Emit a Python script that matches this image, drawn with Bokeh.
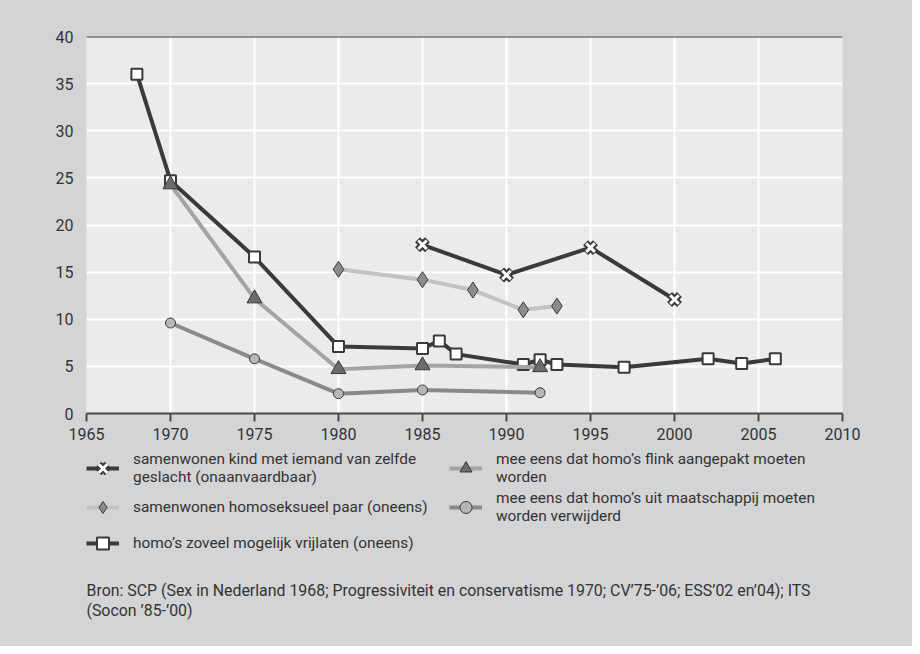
from bokeh.plotting import figure
from bokeh.models import FixedTicker, Span, Legend, LegendItem, Label, Range1d
from bokeh.layouts import column
from bokeh.embed import file_html
from bokeh.resources import INLINE

# ---- data ----
x_ticks = [1965, 1970, 1975, 1980, 1985, 1990, 1995, 2000, 2005, 2010]
y_ticks = [0, 5, 10, 15, 20, 25, 30, 35, 40]

years_cross = [1985, 1990, 1995, 2000]
vals_cross = [17.9, 14.7, 17.6, 12.1]

years_diamond = [1980, 1985, 1988, 1991, 1993]
vals_diamond = [15.3, 14.2, 13.1, 11.0, 11.4]

years_square = [1968, 1970, 1975, 1980, 1985, 1986, 1987, 1991, 1992, 1993, 1997, 2002, 2004, 2006]
vals_square = [36.0, 24.7, 16.6, 7.1, 6.9, 7.7, 6.3, 5.2, 5.7, 5.2, 4.9, 5.8, 5.3, 5.8]

years_triangle = [1970, 1975, 1980, 1985, 1992]
vals_triangle = [24.3, 12.2, 4.7, 5.1, 4.9]

years_circle = [1970, 1975, 1980, 1985, 1992]
vals_circle = [9.6, 5.8, 2.1, 2.5, 2.2]

label_cross = "samenwonen kind met iemand van zelfde\ngeslacht (onaanvaardbaar)"
label_diamond = "samenwonen homoseksueel paar (oneens)"
label_square = "homo\u2019s zoveel mogelijk vrijlaten (oneens)"
label_triangle = "mee eens dat homo\u2019s flink aangepakt moeten\nworden"
label_circle = "mee eens dat homo\u2019s uit maatschappij moeten\nworden verwijderd"

source_lines = [
    "Bron: SCP (Sex in Nederland 1968; Progressiviteit en conservatisme 1970; CV\u201975-\u201906; ESS\u201902 en\u201904); ITS",
    "(Socon \u201985-\u201900)",
]

# ---- style ----
FONT = "Roboto"
TXT = "#333333"
OUTER = "#d3d4d6"
INNER = "#ebebed"
DARK = "#3a3a3a"
W = 912
H1 = 447
H2 = 199
BORDERS = dict(min_border_left=86, min_border_right=70)

# ---- chart ----
p = figure(width=W, height=H1, output_backend="svg", toolbar_location=None,
           x_range=Range1d(1965, 2010), y_range=Range1d(0, 40),
           min_border_top=36, min_border_bottom=34, **BORDERS)
p.background_fill_color = INNER
p.border_fill_color = OUTER
p.outline_line_color = None

p.xaxis.ticker = FixedTicker(ticks=x_ticks)
p.yaxis.ticker = FixedTicker(ticks=y_ticks)
p.xgrid.ticker = FixedTicker(ticks=x_ticks)
p.ygrid.ticker = FixedTicker(ticks=y_ticks)
p.grid.grid_line_color = "white"
p.grid.grid_line_width = 2

p.yaxis.axis_line_color = None
p.yaxis.major_tick_line_color = None
p.yaxis.minor_tick_line_color = None
p.yaxis.major_tick_out = 0
p.yaxis.major_tick_in = 0
p.yaxis.minor_tick_out = 0
p.yaxis.major_label_standoff = 13
p.xaxis.axis_line_color = "#4a4a4a"
p.xaxis.axis_line_width = 2
p.xaxis.major_tick_line_color = "#4a4a4a"
p.xaxis.major_tick_line_width = 2
p.xaxis.major_tick_out = 8
p.xaxis.major_tick_in = 0
p.xaxis.minor_tick_line_color = None
p.xaxis.minor_tick_out = 0
p.xaxis.major_label_standoff = 6
for ax in (p.xaxis, p.yaxis):
    ax.major_label_text_font = FONT
    ax.major_label_text_font_size = "16px"
    ax.major_label_text_color = TXT

p.add_layout(Span(location=40, dimension="width", line_color=DARK, line_width=2))

SQ = dict(marker="square", size=11, fill_color="white", line_color=DARK, line_width=2)
CR1 = dict(marker="x", size=14, line_color=DARK, line_width=7)
CR2 = dict(marker="x", size=12, line_color="white", line_width=3)
DI = dict(marker="diamond", size=16, fill_color="#8c8c8c", line_color=DARK, line_width=1)
TR = dict(marker="triangle", size=15, fill_color="#6c6c6c", line_color=DARK, line_width=1)
CI = dict(marker="circle", size=10, fill_color="#b6b6b6", line_color=DARK, line_width=1)
L_SQ = dict(line_color=DARK, line_width=4)
L_CR = dict(line_color=DARK, line_width=4)
L_DI = dict(line_color="#c2c2c2", line_width=4)
L_TR = dict(line_color="#a4a4a4", line_width=4)
L_CI = dict(line_color="#8a8a8a", line_width=4)

p.line(years_square, vals_square, **L_SQ)
p.scatter(years_square, vals_square, **SQ)
p.line(years_cross, vals_cross, **L_CR)
p.scatter(years_cross, vals_cross, **CR1)
p.scatter(years_cross, vals_cross, **CR2)
p.line(years_diamond, vals_diamond, **L_DI)
p.scatter(years_diamond, vals_diamond, **DI)
p.line(years_triangle, vals_triangle, **L_TR)
p.scatter(years_triangle, vals_triangle, **TR)
p.line(years_circle, vals_circle, **L_CI)
p.scatter(years_circle, vals_circle, **CI)

# ---- legend + source panel (frame aligned with the chart frame) ----
q = figure(width=W, height=H2, output_backend="svg", toolbar_location=None,
           x_range=Range1d(0, 1), y_range=Range1d(0, 1),
           min_border_top=0, min_border_bottom=0, **BORDERS)
q.axis.visible = False
q.grid.visible = False
q.background_fill_color = None
q.border_fill_color = OUTER
q.outline_line_color = None


def legend_renderers(xs, ys, line_style, *marker_styles):
    rs = [q.line(xs, ys, visible=False, **line_style)]
    for ms in marker_styles:
        rs.append(q.scatter(xs, ys, visible=False, **ms))
    return rs


legend = Legend(items=[
    LegendItem(label=label_cross, renderers=legend_renderers(years_cross, vals_cross, L_CR, CR1, CR2)),
    LegendItem(label=label_diamond, renderers=legend_renderers(years_diamond, vals_diamond, L_DI, DI)),
    LegendItem(label=label_square, renderers=legend_renderers(years_square, vals_square, L_SQ, SQ)),
    LegendItem(label=label_triangle, renderers=legend_renderers(years_triangle, vals_triangle, L_TR, TR)),
    LegendItem(label=label_circle, renderers=legend_renderers(years_circle, vals_circle, L_CI, CI)),
], location=(0, 88), nrows=3)
legend.label_text_font = FONT
legend.label_text_font_size = "15.4px"
legend.label_text_color = TXT
legend.glyph_width = 33
legend.glyph_height = 30
legend.label_standoff = 14
legend.label_width = 313
legend.spacing = 3
legend.padding = 0
legend.margin = 0
legend.border_line_color = None
legend.background_fill_alpha = 0
q.add_layout(legend)

for i, line in enumerate(source_lines):
    q.add_layout(Label(x=0, y=56 - 20 * i, x_units="screen", y_units="screen",
                       text=line, text_font=FONT, text_font_size="15.9px",
                       text_color=TXT, text_baseline="middle", text_align="left"))

layout = column(p, q, spacing=0, styles={"background-color": OUTER})
open("out.html", "w").write(file_html(layout, INLINE))
